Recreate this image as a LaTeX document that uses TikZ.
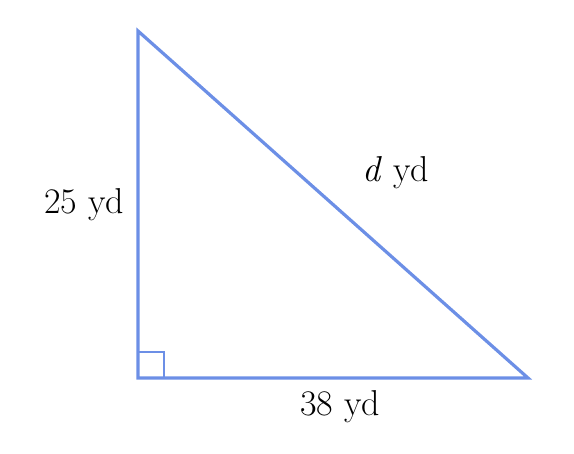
\documentclass[tikz,border=0pt]{standalone}
\definecolor{triblue}{RGB}{108,143,230}
\tikzset{
  side/.style={draw=triblue, line width=3.2pt, line join=miter},
  rightmark/.style={draw=triblue, line width=1.6pt},
  lbl/.style={font=\fontsize{36}{42}\selectfont, inner sep=0pt}
}
\begin{document}
\begin{tikzpicture}[x=1pt,y=-1pt]
\useasboundingbox (0,0) rectangle (574,454);
\coordinate (A) at (138,31);
\coordinate (B) at (138,378);
\coordinate (C) at (528,378);
\draw[rightmark] (138,352) -- (164,352) -- (164,378);
\draw[side] (A) -- (B) -- (C) -- cycle;
\node[lbl] (l25) at (84,205) {25 yd};
\node[lbl] (ld) at (396,173) {\textit{d} yd};
\node[lbl] (l38) at (340,407) {38 yd};
\end{tikzpicture}
\end{document}
